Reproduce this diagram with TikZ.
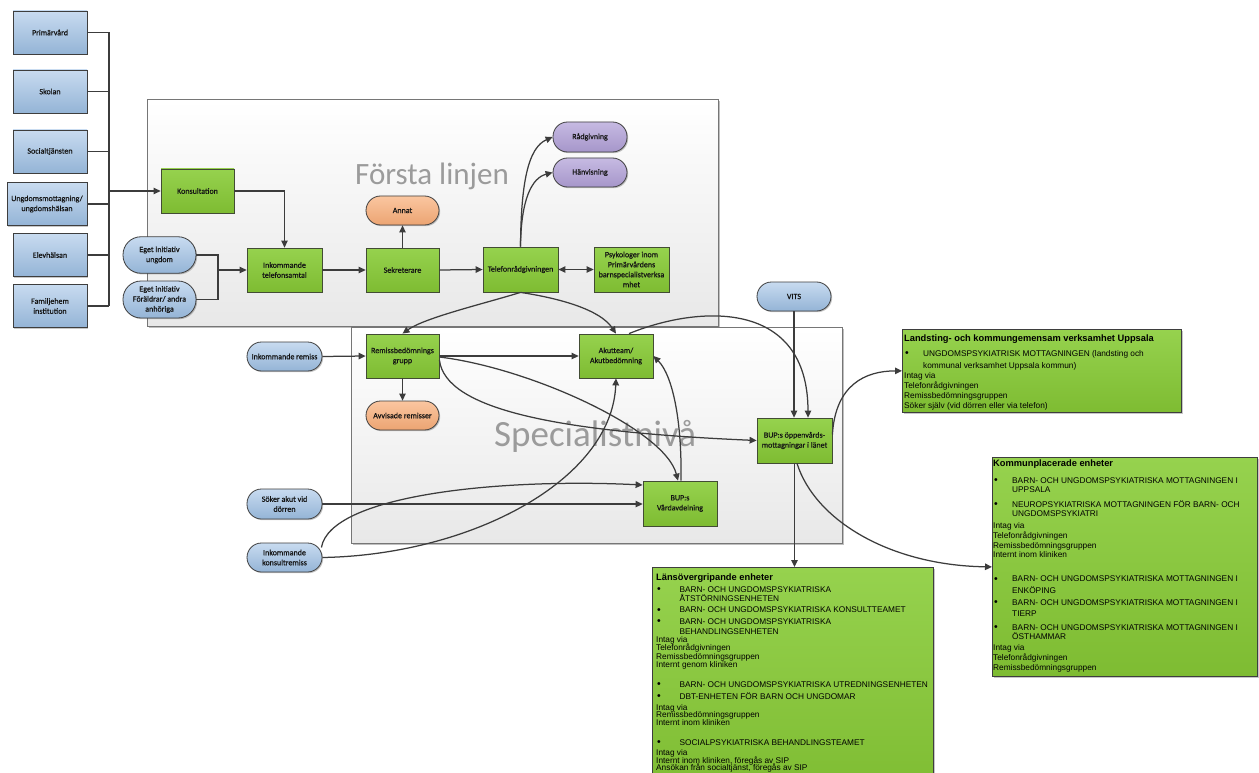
\documentclass[tikz,border=0pt]{standalone}
\usepackage{fontspec}
\setmainfont{Liberation Sans}
\newfontfamily\calib{Carlito}[RawFeature={embolden=0.6}]
\newfontfamily\calibtitle{Carlito}
\usetikzlibrary{arrows.meta,shadows,calc}

% palette
\definecolor{linegray}{RGB}{60,60,60}
\definecolor{greentop}{RGB}{150,210,78}
\definecolor{greenbot}{RGB}{126,188,50}
\definecolor{greenedge}{RGB}{66,76,52}
\definecolor{bluetop}{RGB}{200,219,240}
\definecolor{bluebot}{RGB}{148,180,214}
\definecolor{darkedge}{RGB}{62,62,62}
\definecolor{orangetop}{RGB}{250,198,160}
\definecolor{orangebot}{RGB}{236,164,114}
\definecolor{purpletop}{RGB}{198,186,226}
\definecolor{purplebot}{RGB}{166,150,202}
\definecolor{paneltop}{RGB}{255,255,255}
\definecolor{panelbot}{RGB}{232,232,232}
\definecolor{paneledge}{RGB}{118,118,118}
\definecolor{paneltext}{RGB}{155,155,155}
\definecolor{labeltext}{RGB}{20,20,20}

% bullet and hanging indent for the unit lists
\newcommand\lbul[1][19pt]{\makebox[#1][l]{\hspace*{1pt}\raisebox{-0.3pt}{\fontsize{10.5}{10}\selectfont\textbullet}}}
\newcommand\lind[1][19pt]{\hspace*{#1}}
\newcommand\listsetup[1]{\raggedright\fontsize{8.3}{#1}\selectfont\lineskiplimit=-100pt\lineskip=0pt}

\begin{document}
\begin{tikzpicture}[
  x=1pt, y=-1pt,
  boxshadow/.style={drop shadow={shadow xshift=1.2pt, shadow yshift=-1.2pt, fill=black, opacity=0.22}},
  basebox/.style={rectangle, inner sep=1pt, align=center, text=labeltext,
    font=\calib\fontsize{8}{10}\selectfont, line width=0.8pt, boxshadow},
  proc/.style={basebox, draw=greenedge, top color=greentop, bottom color=greenbot,
    minimum width=74pt, minimum height=44pt},
  srcbox/.style={basebox, draw=darkedge, top color=bluetop, bottom color=bluebot,
    minimum width=74pt, minimum height=43pt},
  bluepill/.style={basebox, draw=darkedge, top color=bluetop, bottom color=bluebot,
    rounded corners=14.5pt, minimum width=75pt, minimum height=29pt},
  tallpill/.style={bluepill, rounded corners=18pt, minimum width=73pt, minimum height=36.5pt},
  orangepill/.style={basebox, draw=darkedge, top color=orangetop, bottom color=orangebot,
    rounded corners=14.5pt, minimum width=73pt, minimum height=29pt},
  purplepill/.style={basebox, draw=darkedge, top color=purpletop, bottom color=purplebot,
    rounded corners=14.5pt, minimum width=74pt, minimum height=29pt},
  panel/.style={rectangle, anchor=north west, draw=paneledge, line width=0.8pt,
    top color=paneltop, bottom color=panelbot,
    drop shadow={shadow xshift=2pt, shadow yshift=-2pt, fill=black, opacity=0.25}},
  paneltitle/.style={anchor=base west, inner sep=0pt, text=paneltext},
  listbox/.style={rectangle, anchor=north west, draw=darkedge, line width=0.8pt,
    top color=greentop, bottom color=greenbot, boxshadow},
  listtext/.style={anchor=base west, inner sep=0pt, text=black},
  conn/.style={draw=linegray, line width=1.25pt},
  arr/.style={conn, -{Triangle[length=7pt,width=6.5pt]}},
  arrboth/.style={conn, {Triangle[length=7pt,width=6.5pt]}-{Triangle[length=7pt,width=6.5pt]}}
]
\useasboundingbox (0,0) rectangle (1259,773);
\fill[white] (0,0) rectangle (1259,773);

% ---------- panels ----------
\node[panel, minimum width=571pt, minimum height=227pt] (forsta) at (147,99) {};
\node[paneltitle, font=\calibtitle\fontsize{31}{31}\selectfont] (forstalbl) at (355,185) {Första linjen};
\node[panel, minimum width=491pt, minimum height=216pt] (spec) at (351,327) {};
\node[paneltitle, font=\calibtitle\fontsize{37}{37}\selectfont] (speclbl) at (494,446) {Specialistnivå};

% ---------- referring parties ----------
\node[srcbox] (prim) at (50,32.5) {Primärvård};
\node[srcbox] (skol) at (50,91.5) {Skolan};
\node[srcbox] (soc)  at (50,151.5) {Socialtjänsten};
\node[srcbox, minimum width=80pt] (ung) at (47,204) {Ungdomsmottagning/\\ungdomshälsan};
\node[srcbox] (elev) at (50,255) {Elevhälsan};
\node[srcbox] (fam)  at (50,306) {Familjehem\\institution};

% ---------- first line ----------
\node[proc, minimum width=73pt] (kons) at (197.5,191) {Konsultation};
\node[tallpill] (egu) at (159.5,255) {Eget initiativ\\ungdom};
\node[tallpill, minimum height=37pt] (egf) at (159.5,299.5) {Eget initiativ\\Föräldrar/ andra\\anhöriga};
\node[proc, minimum width=75pt] (inkt) at (284.5,270) {Inkommande\\telefonsamtal};
\node[proc, minimum width=73pt] (sekr) at (402.5,270) {Sekreterare};
\node[orangepill] (annat) at (402.5,210.5) {Annat};
\node[proc, minimum width=75pt, minimum height=45pt] (tele) at (520.5,269.5) {Telefonrådgivningen};
\node[proc, minimum width=75pt, minimum height=45pt] (psyk) at (631.5,269.5) {Psykologer inom\\Primärvårdens\\barnspecialistverksa\\mhet};
\node[purplepill, minimum height=30pt] (rad) at (590,137) {Rådgivning};
\node[purplepill] (hanv) at (590,172.5) {Hänvisning};

% ---------- specialist level ----------
\node[proc, minimum width=73pt] (remiss) at (402.5,356) {Remissbedömnings\\grupp};
\node[proc] (akut) at (616,356) {Akutteam/\\Akutbedömning};
\node[orangepill] (avv) at (402.5,415.5) {Avvisade remisser};
\node[proc, minimum width=75pt, minimum height=45pt] (bup) at (794.5,440.5) {BUP:s öppenvårds-\\mottagningar i länet};
\node[bluepill, minimum width=74pt] (vits) at (794,296.5) {VITS};
\node[proc, minimum height=45pt] (vard) at (680,503.5) {BUP:s\\Vårdavdelning};
\node[bluepill] (inrem) at (284.5,356.5) {Inkommande remiss};
\node[bluepill, minimum height=30pt] (soker) at (284.5,504) {Söker akut vid\\dörren};
\node[bluepill] (konsr) at (284.5,557.5) {Inkommande\\konsultremiss};

% ---------- unit lists ----------
\node[listbox, minimum width=279pt, minimum height=83pt] (land) at (902,329) {};
\node[listtext] (landtxt) at (904,341.3) {\parbox[t]{276pt}{\listsetup{10pt}%
{\bfseries\fontsize{9.3}{10}\selectfont Landsting- och kommungemensam verksamhet Uppsala}\\[5pt]
\lbul UNGDOMSPSYKIATRISK MOTTAGNINGEN (landsting och\\[1.7pt]
\lind kommunal verksamhet Uppsala kommun)\\
Intag via\\
Telefonrådgivningen\\
Remissbedömningsgruppen\\
Söker själv (vid dörren eller via telefon)}};

\node[listbox, minimum width=265pt, minimum height=219pt] (kom) at (992,457) {};
\node[listtext] (komtxt) at (993,466.3) {\parbox[t]{262pt}{\listsetup{9.7pt}%
{\bfseries\fontsize{9.3}{9.7}\selectfont Kommunplacerade enheter}\\[7pt]
\lbul BARN- OCH UNGDOMSPSYKIATRISKA MOTTAGNINGEN I\\[-0.7pt]
\lind UPPSALA\\[5.3pt]
\lbul NEUROPSYKIATRISKA MOTTAGNINGEN FÖR BARN- OCH\\
\lind UNGDOMSPSYKIATRI\\[2.3pt]
Intag via\\
Telefonrådgivningen\\
Remissbedömningsgruppen\\
Internt inom kliniken\\[14.3pt]
\lbul BARN- OCH UNGDOMSPSYKIATRISKA MOTTAGNINGEN I\\[1.5pt]
\lind ENKÖPING\\[2.3pt]
\lbul BARN- OCH UNGDOMSPSYKIATRISKA MOTTAGNINGEN I\\[1.5pt]
\lind TIERP\\[4.3pt]
\lbul BARN- OCH UNGDOMSPSYKIATRISKA MOTTAGNINGEN I\\
\lind ÖSTHAMMAR\\[1.3pt]
Intag via\\
Telefonrådgivningen\\
Remissbedömningsgruppen}};

\node[listbox, minimum width=281pt, minimum height=230pt] (lans) at (652,567) {};
\node[listtext] (lanstxt) at (656,580.3) {\parbox[t]{278pt}{\listsetup{8pt}%
{\bfseries\fontsize{9.3}{8}\selectfont Länsövergripande enheter}\\[3.7pt]
\lbul[21pt] BARN- OCH UNGDOMSPSYKIATRISKA\\[1pt]
\lind[21pt] ÅTSTÖRNINGSENHETEN\\[3.7pt]
\lbul[21pt] BARN- OCH UNGDOMSPSYKIATRISKA KONSULTTEAMET\\[3.7pt]
\lbul[21pt] BARN- OCH UNGDOMSPSYKIATRISKA\\[2pt]
\lind[21pt] BEHANDLINGSENHETEN\\[0.3pt]
Intag via\\
Telefonrådgivningen\\[1pt]
Remissbedömningsgruppen\\
Internt genom kliniken\\[11.3pt]
\lbul[21pt] BARN- OCH UNGDOMSPSYKIATRISKA UTREDNINGSENHETEN\\[4.3pt]
\lbul[21pt] DBT-ENHETEN FÖR BARN OCH UNGDOMAR\\[3pt]
Intag via\\[-0.7pt]
Remissbedömningsgruppen\\
Internt inom kliniken\\[12pt]
\lbul[21pt] SOCIALPSYKIATRISKA BEHANDLINGSTEAMET\\[1.7pt]
Intag via\\
Internt inom kliniken, föregås av SIP\\[-0.7pt]
Ansökan från socialtjänst, föregås av SIP}};

% ---------- collecting bus on the left ----------
\coordinate (bustop) at (109,32.5);
\coordinate (busbot) at (109,306);
\coordinate (join) at (218,270);
\foreach \n in {prim,skol,soc,ung,elev,fam}
  \draw[conn] (\n.east) -- (\n.east -| bustop);
\draw[conn] (bustop) -- (busbot);
\draw[arr] (kons.west -| bustop) -- (kons.west);

% ---------- first line flow ----------
\draw[conn] (egu.east) -| (join);
\draw[conn] (egf.east) -| (join);
\draw[arr] (join) -- (inkt.west);
\draw[arr] (kons.east) -| (inkt.north);
\draw[arr] (inkt.east) -- (sekr.west);
\draw[arr] (sekr.north) -- (annat.south);
\draw[arr] (sekr.east) -- (tele.west);
\draw[arrboth] (tele.east) -- (psyk.west);
\draw[arr] (tele.north) .. controls +(0.5,-62) and +(-25,11) .. (rad.west);
\draw[arr] (tele.north) .. controls +(0.5,-47) and +(-21,5.5) .. (hanv.west);
\draw[arr] (tele.south) .. controls +(-35.5,11) and +(22.5,-16) .. (remiss.north);
\draw[arr] (tele.south) .. controls +(39.5,6) and +(-16,-24) .. (akut.north);

% ---------- specialist level flow ----------
\draw[arr] (inrem.east) -- (remiss.west);
\draw[arr] (remiss.south) -- (avv.north);
\draw[arr] (remiss.east) -- (akut.west);
\draw[arr] ($(remiss.east)+(0,1)$) .. controls +(91,11) and +(-13,-51) .. ($(vard.north)+(-2,0)$);
\draw[arr] ($(remiss.east)+(0,4)$) .. controls +(6,50) and +(-197,-8.5) .. (bup.west);
\draw[arr] ($(vard.north)+(1,0)$) .. controls +(1,-61) and +(19,19) .. (akut.east);
\draw[arr] (konsr.east) .. controls +(148,-2.5) and +(-4,102) .. (akut.south);
\draw[arr] ($(konsr.east)+(-1,-10)$) .. controls +(9,-52.5) and +(-143,-7) .. ($(vard.west)+(0,-18.5)$);
\draw[arr] (soker.east) -- (soker.east -| vard.west);
\draw[arr] ($(akut.north)+(13,0)$) .. controls +(71,-29) and +(0,-118) .. ($(bup.north)+(13.5,0)$);
\draw[arr] (vits.south) -- (vits.south |- bup.north);
\draw[arr] ($(bup.east)+(0,-6)$) .. controls +(3,-49.5) and +(-37,0) .. (land.west);
\draw[arr] (bup.south) -- (bup.south |- lans.north);
\draw[arr] ($(bup.south)+(2.5,0)$) .. controls +(18,57) and +(-102,-1.5) .. (kom.west);
\end{tikzpicture}
\end{document}
